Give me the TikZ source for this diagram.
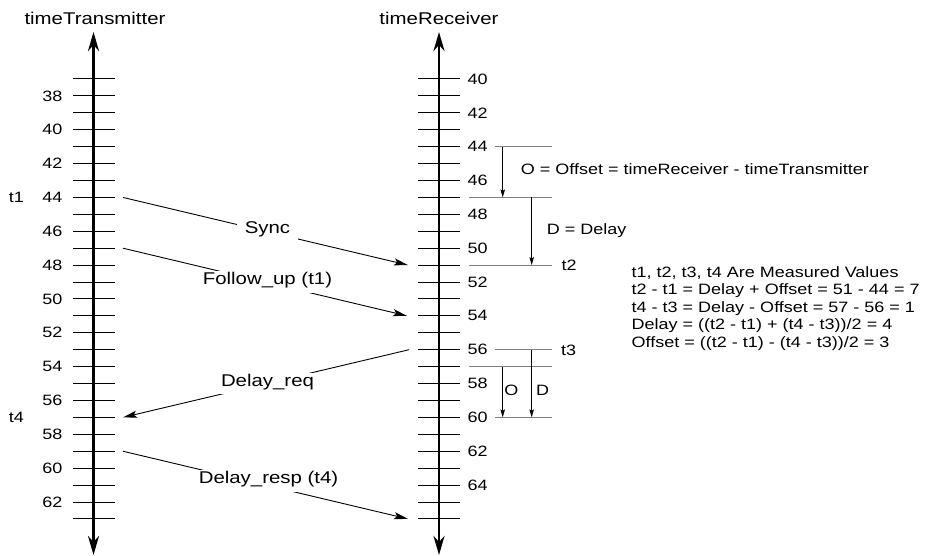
\documentclass[tikz,border=0pt]{standalone}
\usepackage{fontspec}
\setmainfont[FakeStretch=1.2]{Liberation Sans}
\usetikzlibrary{arrows.meta}
\begin{document}
\begin{tikzpicture}[x=1pt,y=-1pt,
  declare function={yl(\v)=79+(\v-37)*16.92; yr(\v)=79+(\v-40)*16.92;},
  axis/.style={line width=2.6pt, {Stealth[length=19pt,width=11pt,inset=6pt]}-{Stealth[length=19pt,width=11pt,inset=6pt]}},
  tickline/.style={line width=1pt},
  num/.style={font=\fontsize{15}{18}\selectfont, inner sep=0pt},
  title/.style={font=\fontsize{17}{20}\selectfont, inner sep=0pt},
  msg/.style={line width=0.9pt, -{Stealth[length=14pt,width=7pt,inset=3pt]}},
  msglabel/.style={font=\fontsize{17}{20}\selectfont, fill=white, text height=0.72em, text depth=0.21em, inner xsep=8pt, inner ysep=6pt},
  guide/.style={line width=0.9pt, black!50},
  span/.style={line width=0.8pt, -{Stealth[length=8pt,width=4.5pt,inset=1.5pt]}},
  note/.style={font=\fontsize{15}{18}\selectfont, inner sep=0pt, anchor=base west},
]
\useasboundingbox (0,0) rectangle (926,556);

% titles
\node[title] (tT) at (95,18) {timeTransmitter};
\node[title] (tR) at (439,18) {timeReceiver};

% axes
\coordinate (Ltop) at (93.5,32);
\coordinate (Lbot) at (93.5,555);
\coordinate (Rtop) at (439,32);
\coordinate (Rbot) at (439,555);

\foreach \v in {37,...,63}
  \draw[tickline] (73,{yl(\v)}) -- (115,{yl(\v)});
\foreach \v in {38,40,...,62}
  \node[num,anchor=east] (L\v) at (62.5,{yl(\v)}) {\v};
\foreach \v in {40,...,66}
  \draw[tickline] (417.7,{yr(\v)}) -- (460,{yr(\v)});
\foreach \v in {40,42,...,64}
  \node[num,anchor=west] (R\v) at (467.5,{yr(\v)}) {\v};

\draw[axis] (Ltop) -- (Lbot);
\draw[axis] (Rtop) -- (Rbot);

\node[num] (t1) at (16.5,{yl(44)}) {t1};
\node[num] (t4) at (16.5,{yl(57)}) {t4};

% messages
\coordinate (syncA) at (123,{yl(44)});
\coordinate (syncB) at (408,{yr(51)});
\coordinate (fupA) at (123,{yl(47)});
\coordinate (fupB) at (407,{yr(54)});
\coordinate (dreqA) at (409,{yr(56)});
\coordinate (dreqB) at (123,{yl(57)});
\coordinate (drespA) at (123,{yl(59)});
\coordinate (drespB) at (408,{yr(66)});

\draw[msg] (syncA) -- (syncB);
\node[msglabel] (syncL) at (267.5,231) {Sync};
\draw[msg] (fupA) -- (fupB);
\node[msglabel] (fupL) at (267.5,282) {Follow\_up (t1)};
\draw[msg] (dreqA) -- (dreqB);
\node[msglabel] (dreqL) at (267.5,383.7) {Delay\_req};
\draw[msg] (drespA) -- (drespB);
\node[msglabel] (drespL) at (268.5,481) {Delay\_resp (t4)};

% guides on receiver side
\coordinate (g44a) at (495,{yr(44)});   \coordinate (g44b) at (551.7,{yr(44)});
\coordinate (g47a) at (469,{yr(47)});   \coordinate (g47b) at (551.7,{yr(47)});
\coordinate (g51a) at (469,{yr(51)});   \coordinate (g51b) at (551.7,{yr(51)});
\coordinate (g56a) at (495,{yr(56)});   \coordinate (g56b) at (551.7,{yr(56)});
\coordinate (g57a) at (469,{yr(57)});   \coordinate (g57b) at (551.7,{yr(57)});
\coordinate (g60a) at (495,{yr(60)});   \coordinate (g60b) at (551.7,{yr(60)});
\draw[guide] (g44a) -- (g44b);
\draw[guide] (g47a) -- (g47b);
\draw[guide] (g51a) -- (g51b);
\draw[guide] (g56a) -- (g56b);
\draw[guide] (g57a) -- (g57b);
\draw[guide] (g60a) -- (g60b);

% spans
\coordinate (o1a) at (502.7,{yr(44)}); \coordinate (o1b) at (502.7,{yr(47)});
\coordinate (d1a) at (531.7,{yr(47)}); \coordinate (d1b) at (531.7,{yr(51)});
\coordinate (o2a) at (502.7,{yr(57)}); \coordinate (o2b) at (502.7,{yr(60)});
\coordinate (d2a) at (531.7,{yr(56)}); \coordinate (d2b) at (531.7,{yr(60)});
\draw[span] (o1a) -- (o1b);
\draw[span] (d1a) -- (d1b);
\draw[span] (o2a) -- (o2b);
\draw[span] (d2a) -- (d2b);

\node[note] (offs) at (520.7,175) {O = Offset = timeReceiver - timeTransmitter};
\node[note] (dly) at (546.7,234) {D = Delay};
\node[note] (t2) at (561.5,270.5) {t2};
\node[note] (t3) at (561,355) {t3};
\node[note,anchor=base] (oS) at (511.3,395) {O};
\node[note,anchor=base] (dS) at (542.5,395) {D};

% explanation block
\node[note] (e1) at (631.5,277) {t1, t2, t3, t4 Are Measured Values};
\node[note] (e2) at (631.5,294.5) {t2 - t1 = Delay + Offset = 51 - 44 = 7};
\node[note] (e3) at (631.5,312) {t4 - t3 = Delay - Offset = 57 - 56 = 1};
\node[note] (e4) at (631.5,329.5) {Delay = ((t2 - t1) + (t4 - t3))/2 = 4};
\node[note] (e5) at (631.5,347) {Offset = ((t2 - t1) - (t4 - t3))/2 = 3};
\end{tikzpicture}
\end{document}
